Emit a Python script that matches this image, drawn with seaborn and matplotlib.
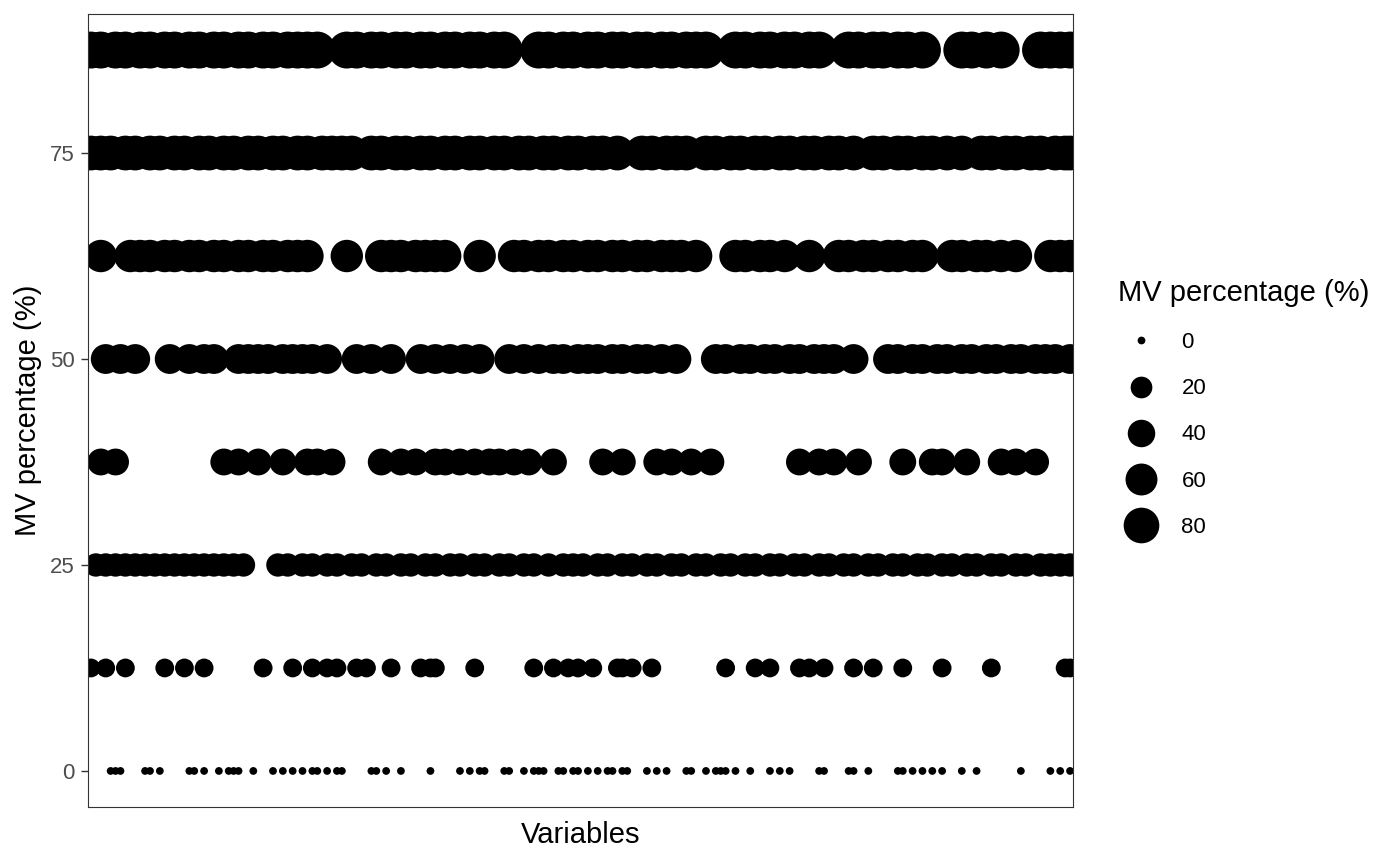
import numpy as np
import pandas as pd
import matplotlib
matplotlib.use('Agg')
import matplotlib.pyplot as plt
from matplotlib.lines import Line2D
import seaborn as sns

# Missing-value percentage per variable.
# Each list holds the variable numbers (1..200 on the x axis) that sit on that level.
n_vars = 200
mv_0 = [5, 6, 7, 12, 13, 15, 21, 22, 24, 27, 29, 30, 31, 34, 38, 40, 42, 44, 46, 47,
        49, 51, 52, 58, 59, 61, 64, 70, 76, 78, 80, 81, 85, 86, 89, 91, 92, 93, 96, 97,
        99, 100, 102, 104, 106, 107, 109, 110, 114, 116, 118, 122, 123, 126, 128, 129,
        130, 132, 135, 139, 141, 143, 149, 150, 155, 156, 159, 165, 166, 168, 170, 172,
        174, 178, 181, 190, 196, 198, 200]
mv_12 = [1, 4, 8, 16, 20, 24, 36, 42, 46, 49, 51, 55, 57, 62, 68, 70, 71, 79, 91, 95,
         98, 100, 103, 108, 109, 111, 115, 130, 136, 139, 145, 147, 150, 156, 160, 166,
         174, 184, 199, 200]
mv_25 = [2, 4, 6, 8, 10, 12, 14, 16, 18, 20, 22, 24, 26, 28, 30, 32, 39, 41, 44, 46,
         49, 51, 54, 56, 59, 61, 64, 66, 69, 71, 74, 76, 79, 81, 84, 86, 89, 91, 94, 97,
         99, 101, 104, 106, 109, 111, 114, 116, 119, 121, 124, 126, 129, 131, 134, 136,
         139, 141, 144, 146, 149, 151, 154, 156, 159, 161, 164, 166, 169, 171, 174, 176,
         179, 181, 184, 186, 189, 191, 194, 196, 198, 200]
mv_37 = [3, 6, 28, 31, 35, 40, 45, 47, 50, 60, 64, 67, 71, 73, 76, 79, 82, 84, 87, 90,
         95, 105, 109, 116, 119, 123, 127, 145, 149, 152, 157, 166, 172, 174, 179, 186,
         189, 193]
mv_50 = [4, 7, 10, 17, 21, 24, 26, 31, 33, 35, 37, 40, 42, 44, 46, 49, 55, 58, 62, 68,
         71, 74, 77, 80, 86, 89, 92, 95, 97, 100, 102, 104, 107, 109, 112, 114, 117, 120,
         128, 130, 133, 135, 138, 140, 143, 145, 148, 150, 152, 156, 163, 165, 168, 170,
         173, 175, 178, 180, 183, 185, 188, 190, 193, 195, 197, 200]
mv_62 = [3, 9, 11, 13, 16, 18, 21, 23, 26, 28, 31, 33, 36, 38, 41, 43, 45, 53, 60, 62,
         64, 67, 69, 71, 73, 80, 87, 89, 92, 94, 97, 99, 102, 104, 107, 109, 112, 114,
         117, 119, 121, 124, 132, 134, 137, 139, 142, 147, 153, 155, 158, 160, 163, 165,
         168, 170, 176, 178, 181, 183, 186, 189, 196, 198, 200]
mv_75 = [1, 3, 5, 8, 10, 13, 15, 18, 20, 23, 25, 28, 30, 33, 35, 38, 40, 43, 45, 48,
         50, 52, 54, 58, 60, 63, 65, 68, 70, 73, 75, 78, 80, 83, 85, 88, 90, 93, 95, 98,
         100, 103, 105, 108, 113, 115, 118, 120, 122, 126, 128, 131, 133, 136, 138, 141,
         143, 146, 148, 151, 153, 156, 160, 162, 165, 167, 170, 172, 175, 178, 182, 184,
         187, 189, 192, 194, 197, 199, 200]
mv_87 = [1, 3, 6, 8, 11, 13, 16, 18, 21, 23, 26, 28, 31, 33, 36, 38, 41, 43, 45, 47,
         53, 55, 58, 60, 63, 65, 68, 70, 73, 75, 78, 80, 83, 85, 92, 94, 97, 99, 102,
         104, 107, 109, 112, 114, 117, 119, 122, 124, 126, 132, 134, 137, 139, 142, 144,
         147, 149, 155, 157, 160, 162, 165, 167, 170, 178, 180, 183, 186, 194, 196, 198,
         200]

levels = [0, 12.5, 25, 37.5, 50, 62.5, 75, 87.5]
level_vars = [mv_0, mv_12, mv_25, mv_37, mv_50, mv_62, mv_75, mv_87]
y_ticks = [0, 25, 50, 75]
legend_breaks = [0, 20, 40, 60, 80]

rows = []
for lvl, vars_ in zip(levels, level_vars):
    for v in vars_:
        rows.append({'variable': v, 'mv': lvl})
df = pd.DataFrame(rows)


def point_diam(v):
    # size scale like ggplot2 (1-6 mm by area), returned as diameter in points
    size_mm = 1 + 5 * np.sqrt(v / max(levels))
    d_px = 2.05 * (size_mm * 72.27 / 25.4 + 0.945)
    return d_px * 72 / 100


sns.set_theme(style='white')
plt.rcParams['font.family'] = ['Liberation Sans', 'DejaVu Sans']
plt.rcParams['text.color'] = 'black'
plt.rcParams['axes.labelcolor'] = 'black'

fig = plt.figure(figsize=(14, 8.65), dpi=100)
ax = fig.add_axes([88 / 1400, 58 / 865, 985 / 1400, 793 / 865])

sns.scatterplot(data=df, x='variable', y='mv', size='mv',
                sizes={l: point_diam(l) ** 2 for l in levels},
                color='black', linewidth=0, legend=False, ax=ax)

ax.set_xlim(0.4, n_vars + 0.6)
ax.set_ylim(-4.375, 91.875)
ax.set_xticks([])
ax.set_yticks(y_ticks)
ax.tick_params(axis='y', left=True, length=5.3, width=1, color='#333333',
               pad=4.2, labelsize=16, labelcolor='#4D4D4D')
for sp in ax.spines.values():
    sp.set_color('#333333')
    sp.set_linewidth(0.8)

ax.set_xlabel('Variables', fontsize=21, labelpad=10)
ax.set_ylabel('MV percentage (%)', fontsize=21, labelpad=6)

# size legend
handles = [Line2D([], [], marker='o', linestyle='', color='black',
                  markeredgewidth=0, markersize=point_diam(b)) for b in legend_breaks]
fig.legend(handles, [str(b) for b in legend_breaks], title='MV percentage (%)',
           loc='upper left', bbox_to_anchor=(1107 / 1400, 1 - 268 / 865),
           frameon=False, fontsize=16, title_fontsize=21, alignment='left',
           handlelength=2.1, handletextpad=0.75, labelspacing=1.13, borderpad=0)

fig.savefig('out.png', dpi=100)
